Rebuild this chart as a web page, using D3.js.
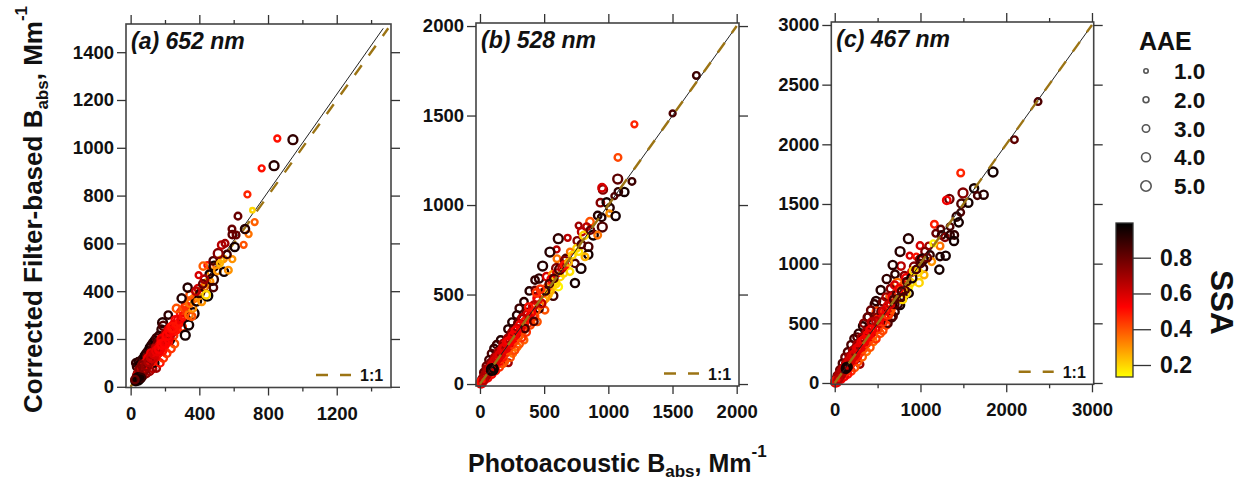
<!DOCTYPE html>
<html>
<head>
<meta charset="utf-8">
<script src="https://cdn.jsdelivr.net/npm/d3@7"></script>
<style>
  html, body { margin: 0; background: #fff; }
  svg { display: block; font-family: "Liberation Sans", Arial, sans-serif; font-weight: bold; fill: #111; }
  .marks { filter: blur(0.35px); }
</style>
</head>
<body>
<div id="chart"></div>
<script>
// every point is [photoacoustic, filter-based, AAE, SSA]
const pointsA = [
  [30,100,3,.9],[45,105,3,.92],[60,108,3,.85],[35,85,3,.9],[50,90,3,.95],[70,115,3.5,.9],[80,130,3,.95],[90,140,3,.92],
  [100,150,3,.9],[110,165,3,.95],[120,175,3,.92],[130,185,3,.9],[140,195,3,.95],[150,205,3,.88],[165,215,3,.9],
  [180,240,3.5,.9],[186,268,4,.92],[190,255,3.5,.85],[219,300,3,.9],[70,45,3,.8],[90,55,3,.75],[110,65,3,.7],
  [130,75,2.5,.65],[151,77,2.5,.7],[140,100,3,.95],[170,100,3,.5],[190,120,3,.45],[210,140,3,.45],[235,160,3,.45],
  [255,180,3,.4],[230,195,3,.95],[60,70,3,.6],[75,85,3,.7],[85,75,3,.55],[95,110,3,.75],[105,95,3,.55],[115,130,3,.7],
  [125,105,3,.5],[135,150,3.5,.75],[145,125,3,.55],[155,175,3,.7],[160,140,3,.5],[170,165,3.5,.6],[175,190,3,.65],
  [185,150,3,.5],[195,210,3,.6],[200,175,3,.5],[215,225,3,.55],[220,190,3,.5],[225,215,4,.8],[240,250,3,.55],
  [250,215,3,.45],[260,280,3,.55],[270,240,3,.5],[280,265,3,.6],[290,310,3,.5],[300,250,3,.45],[305,290,3,.75],
  [40,55,3,.8],[50,60,3,.55],[55,70,3,.6],[65,60,3,.6],[70,95,3,.8],[75,75,3,.5],[85,90,3,.65],[90,80,3,.5],
  [95,125,3,.8],[100,90,3,.6],[105,115,3,.6],[110,100,3,.5],[115,145,3,.85],[120,115,3,.55],[125,135,3,.65],[130,125,3,.5],
  [130,160,3,.85],[140,140,3,.6],[145,165,3,.7],[150,135,3,.55],[155,155,3,.5],[160,185,3,.8],[165,170,3,.55],[170,145,3,.5],
  [175,175,3,.6],[180,160,3,.5],[185,190,3,.6],[190,175,3,.5],[195,195,3,.65],[200,190,3,.55],[205,225,3,.7],[210,200,3,.5],
  [215,210,3,.55],[220,240,3,.6],[225,205,3,.55],[230,225,3,.5],[235,250,3,.5],[240,225,3,.6],[245,235,3,.55],[250,260,3,.55],
  [255,235,3,.5],[260,255,3,.6],[265,255,3,.5],[275,280,3,.55],[285,270,3,.5],[295,285,3,.55],[300,320,3,.45],[310,300,3,.5],
  [315,330,3,.4],[330,320,3,.45],[350,360,3,.4],[370,370,3,.35],[390,380,3,.3],[410,400,3,.3],[430,420,3,.35],[445,435,3,.3],
  [460,440,3,.3],[470,480,3,.3],[500,510,2.5,.35],[525,530,2.5,.25],[540,535,2.5,.3],
  [267,328,3,.4],[318,216,4,.95],[338,258,4,.95],[365,307,5,.95],[340,300,3,.35],[355,295,3,.4],[360,330,3,.3],
  [320,340,3,.45],[345,350,3,.35],[384,359,4,.95],[414,356,2.5,.3],[346,384,3,.4],[297,370,3.5,.92],[332,415,3.5,.92],
  [394,411,3,.6],[404,391,3,.9],[380,400,3,.65],[420,430,3,.8],[447,381,4.5,.97],[440,385,3,.2],[482,415,3,.85],
  [478,449,5,.9],[458,471,3,.95],[430,450,3,.7],[396,467,2,.6],[447,509,2,.5],[423,505,3,.38],[485,505,4,.95],
  [481,527,3,.85],[505,485,2.5,.3],[544,481,3.5,.95],[569,488,2.5,.3],[520,516,2,.25],[592,534,2,.3],[561,554,3,.88],
  [510,558,4,.75],[530,593,3,.65],[550,600,2.5,.7],[606,585,3.5,.95],[658,594,2,.4],[687,639,2,.35],[592,637,3,.82],
  [614,635,2.5,.8],[590,660,2.5,.8],[666,660,3.5,.92],[625,714,2.5,.8],[722,689,2,.38],[709,739,1,.2],[680,805,2,.47],
  [763,914,2,.5],[835,925,4,.92],[854,1039,2,.5],[945,1034,4,.9],
  [35,45,3,.7],[45,60,3,.65],[60,50,3,.6],[75,65,3,.55],[85,100,3,.6],[100,120,3,.55],[120,140,3.5,.55],[135,120,3,.6],
  [150,160,3.5,.65],[165,150,3,.55],[180,200,3.5,.55],[205,205,3,.6],[50,75,3,.75],[65,90,3,.75],
  [55,48,3.5,.75],[68,58,3.5,.7],[80,72,4,.75],[92,88,4,.72],[108,105,4,.68],[122,122,4,.62],[138,138,4,.6],[152,150,4,.56],
  [168,160,4,.54],[182,178,4,.52],[198,182,4,.52],[212,215,4,.52],[228,232,4,.52],[246,248,4,.5],
  [30,25,4,.95],[38,30,4,.98],[45,28,4,.95],[52,35,4,.98],[42,38,4,.95],[60,38,3.5,.9],[35,35,3.5,.95],[25,30,3,.8]
];
const pointsB = [
  [1686,1724,2.5,.88],[1501,1512,2,.85],[1203,1451,2,.47],[1075,1266,2.5,.42],[1073,1145,4,.82],[1184,1132,2.5,.88],
  [958,1087,3.5,.75],[951,1097,3,.6],[1125,1073,3.5,.95],[1078,1074,3,.9],[1047,1050,2,.85],[938,1013,3,.75],
  [987,1015,3.5,.95],[1013,985,3,.92],[1008,953,2,.3],[1057,939,3.5,.95],[917,942,3,.92],[948,931,3,.92],[953,877,4,.85],
  [857,907,3,.4],[769,885,2,.7],[831,879,2.5,.65],[792,851,3,.65],[883,832,4,.95],[917,832,2.5,.35],[683,817,2,.65],
  [610,812,4,.9],[758,800,3,.75],[597,752,2,.65],[545,737,4,.92],[844,767,3.5,.85],[844,724,3.5,.95],[818,711,2.5,.25],
  [753,758,2.5,.2],[600,700,2.5,.35],[670,702,3,.85],[701,739,2,.35],[488,659,4,.92],[787,646,4,.95],[740,674,3,.85],
  [597,646,4,.75],[701,628,2.5,.18],[623,600,3,.2],[740,564,3.5,.95],[429,581,3,.9],[460,590,3.5,.9],[384,520,3,.92],
  [429,525,2.5,.8],[519,600,3,.6],[566,609,3,.3],[610,544,3,.15],[571,493,3.5,.88],[506,413,2.5,.4],[343,460,3,.92],
  [306,423,3,.88],[447,348,2.5,.4],[286,385,3,.92],[249,346,3,.92],[218,307,3,.92],[343,246,2.5,.38],[291,208,2.5,.35],
  [255,171,2.5,.35],[221,119,2.5,.7],[195,125,2,.4],[161,246,3,.92],[109,199,3,.9],[130,220,3,.88],[90,170,3,.85],
  [70,135,3,.88],[50,100,3,.8],[30,65,3,.8],[150,95,3,.45],[175,115,3,.4],[120,75,3,.5],[90,55,3,.55],[60,35,3,.55],
  [235,150,3,.4],[270,190,3,.42],[305,225,3,.4],[325,260,3,.45],[360,290,3,.45],[390,330,3,.42],[425,380,3,.4],
  [460,420,3,.88],[495,470,3,.3],[530,500,3,.25],[560,540,3,.2],[580,570,3,.2],
  [15,25,3,.8],[25,35,3,.6],[35,25,3,.55],[45,60,3,.75],[50,40,3,.5],[60,75,3,.8],[65,55,3,.5],[75,90,3,.7],[80,65,3,.45],
  [95,110,3,.8],[105,85,3,.5],[110,125,3,.7],[120,105,3,.55],[125,150,3,.85],[135,115,3,.45],[140,160,3,.75],[150,130,3,.55],
  [155,190,3,.9],[160,140,3,.45],[170,185,3,.7],[175,150,3,.5],[190,215,3,.8],[195,170,3,.45],[205,195,3,.55],[210,245,3,.85],
  [220,190,3,.4],[225,215,3,.6],[240,275,3,.85],[245,220,3,.45],[255,250,3,.55],[265,310,3,.85],[275,245,3,.42],[285,280,3,.6],
  [295,340,3,.8],[300,265,3,.4],[315,300,3,.55],[325,365,3,.75],[335,300,3,.42],[345,335,3,.6],[360,400,3,.8],[375,340,3,.45],
  [385,375,3,.55],[410,430,3,.6],[415,380,3,.45],[435,410,3,.4],[445,480,3,.55],[465,440,3,.35],[490,510,3,.45],[510,480,3,.3],
  [525,540,3,.4],[545,520,3,.25],[555,585,3,.55],[590,560,3,.2],[600,620,3,.6],[650,620,3,.2],[660,690,3,.75],
  [480,450,3,.65],[450,470,3,.55],[420,440,3,.65],[400,400,3,.55],[370,390,3,.6],[350,350,3,.5],[330,370,3,.65],
  [310,330,3,.55],[290,310,3,.6],[270,280,3,.55],[250,290,3,.7],[235,240,3,.55],[215,255,3,.7],[200,210,3,.55],
  [180,225,3,.7],[165,170,3,.55],[145,180,3,.7],[130,135,3,.55],[115,150,3,.7],[100,100,3,.55],[85,120,3,.75],
  [70,70,3,.55],[55,85,3,.7],[40,40,3,.55],[510,520,3,.9],[540,560,3,.85],[575,590,3,.85],[620,640,4,.85],[640,650,3,.65],
  [660,665,3,.5],[690,680,2.5,.25],[720,720,2.5,.2],[770,740,2.5,.18],[790,780,3,.85],[810,830,3,.2],[860,860,3,.8],
  [380,430,3,.5],[440,510,3,.45],[470,530,3,.45],[420,350,3,.85],[350,310,3,.85],
  [30,32,4,.7],[48,52,4,.68],[65,68,4,.66],[82,88,4,.64],[98,108,4,.62],[118,128,4,.6],[138,148,4,.6],[158,165,4,.58],
  [178,195,4,.58],[192,200,4,.56],[212,230,4,.56],[230,240,4,.54],[260,268,4,.54],[280,295,4,.54],
  [96,82,5,.98],[105,88,3.5,.95],[88,75,3.5,.95],
  [10,8,3,.55],[20,15,3,.55],[5,2,3,.6],[15,3,3,.55],[3,10,3,.5],[28,20,3,.65]
];
const pointsC = [
  [2371,2358,2.5,.85],[2095,2039,2.5,.82],[1469,1760,2.5,.47],[1846,1768,4,.95],[1625,1631,3.5,.95],[1663,1570,2.5,.85],
  [1737,1578,3.5,.92],[1496,1592,4,.75],[1337,1542,3.5,.8],[1306,1531,3,.55],[1477,1503,3.5,.85],[1558,1511,3.5,.95],
  [1469,1430,2.5,.85],[1422,1394,3.5,.9],[1446,1346,3.5,.95],[1345,1310,2.5,.85],[1162,1330,2.5,.48],[1236,1290,2.5,.82],
  [1178,1254,2.5,.8],[1247,1240,3,.9],[1286,1221,3,.75],[1345,1240,3,.9],[1395,1240,3,.9],[1391,1190,3.5,.95],
  [859,1209,4,.92],[995,1151,2.5,.6],[1096,1148,2.5,.7],[1228,1148,2.5,.35],[1150,1170,2,.15],[762,1101,4,.92],
  [1053,1101,3,.75],[874,1067,2,.6],[952,1059,2,.5],[1111,1073,3,.9],[1228,1059,3,.92],[1294,1067,3.5,.95],
  [1131,1017,2.5,.3],[1220,950,3.5,.95],[773,980,3,.65],[676,989,3.5,.92],[925,975,3.5,.75],[1034,961,3,.9],
  [703,911,3,.9],[1042,905,2.5,.25],[606,872,3.5,.9],[812,899,3,.75],[731,835,4,.35],[983,841,3,.2],[536,779,3.5,.92],
  [859,802,3,.15],[867,751,3,.95],[482,687,3.5,.92],[463,662,3,.9],[645,723,3,.4],[800,723,3,.9],[762,654,3.5,.95],
  [393,553,3.5,.92],[490,598,3.5,.42],[703,598,3,.9],[665,547,3,.9],[599,486,3,.45],[326,478,3,.92],[276,416,3,.9],
  [225,372,3,.88],[529,416,3,.4],[451,346,2.5,.35],[373,263,2.5,.35],[295,156,2.5,.7],
  [190,320,3,.85],[150,260,3,.85],[120,215,3,.8],[90,165,3,.85],[60,110,3,.8],[30,60,3,.8],[260,385,3,.85],
  [420,610,3,.8],[380,550,3,.8],[340,500,3,.75],[560,680,3,.8],[600,720,3,.7],[650,790,3,.75],[700,820,3,.6],
  [230,130,3,.4],[190,100,3,.45],[150,75,3,.5],[110,55,3,.55],[70,30,3,.55],[270,180,3,.4],[320,220,3,.38],
  [410,300,3,.4],[480,370,3,.45],[560,440,3,.42],[620,500,3,.85],[680,560,3,.85],[640,590,3,.4],[740,660,3,.9],
  [790,700,3,.2],[830,750,3,.2],
  [20,35,3,.8],[35,50,3,.6],[50,35,3,.55],[65,90,3,.75],[75,60,3,.5],[90,110,3,.8],[100,80,3,.5],[115,135,3,.7],[120,95,3,.45],
  [140,170,3,.8],[155,125,3,.5],[165,190,3,.7],[180,155,3,.55],[190,225,3,.85],[200,170,3,.45],[210,245,3,.75],[225,195,3,.55],
  [235,285,3,.9],[240,210,3,.45],[255,280,3,.7],[265,225,3,.5],[285,325,3,.8],[295,255,3,.45],[310,290,3,.55],[315,365,3,.85],
  [330,285,3,.4],[340,325,3,.6],[360,415,3,.85],[370,330,3,.45],[385,375,3,.55],[400,465,3,.85],[415,370,3,.42],[430,420,3,.6],
  [445,510,3,.8],[450,400,3,.4],[475,450,3,.55],[490,550,3,.75],[505,450,3,.42],[520,500,3,.6],[540,600,3,.8],[565,510,3,.45],
  [580,560,3,.55],[615,645,3,.6],[625,570,3,.45],[655,615,3,.4],[670,720,3,.55],[700,660,3,.85],[735,765,3,.45],[765,720,3,.85],
  [790,810,3,.4],[820,780,3,.85],[830,880,3,.55],[885,840,3,.2],[900,930,3,.6],[975,930,3,.2],[990,1035,3,.75],
  [600,610,3,.55],[560,600,3,.6],[520,530,3,.55],[480,520,3,.65],[440,450,3,.55],[430,510,3,.65],[400,410,3,.55],
  [370,430,3,.7],[340,350,3,.55],[310,380,3,.7],[290,300,3,.55],[260,320,3,.7],[240,240,3,.55],[210,270,3,.7],
  [190,190,3,.55],[170,220,3,.7],[150,150,3,.55],[130,170,3,.7],[110,110,3,.55],[90,120,3,.7],[70,70,3,.55],[50,75,3,.7],
  [650,660,3,.6],[690,700,3,.85],[720,740,3,.85],[750,790,3,.55],[780,770,3,.85],[840,850,3,.85],[900,880,4,.95],
  [920,940,3,.2],[950,950,3,.85],[1026,1036,4.5,.92],[1000,1000,3,.85],[1080,1050,3,.8],
  [45,48,4,.7],[70,74,4,.68],[95,100,4,.66],[122,130,4,.64],[148,158,4,.62],[175,185,4,.6],[205,220,4,.6],[230,238,4,.58],
  [262,282,4,.58],[285,298,4,.56],[318,342,4,.56],[345,358,4,.54],[390,402,4,.54],[420,442,4,.54],
  [140,131,4,.95],[150,135,3.5,.95],[130,120,3.5,.95],
  [10,8,3,.55],[20,12,3,.55],[5,2,3,.6],[25,3,3,.55],[3,15,3,.5],[40,30,3,.65]
];

const xTicksA = [0, 400, 800, 1200], xMinorA = [200, 600, 1000, 1400], yTicksA = [0, 200, 400, 600, 800, 1000, 1200, 1400];
const xTicksB = [0, 500, 1000, 1500, 2000], xMinorB = [], yTicksB = [0, 500, 1000, 1500, 2000];
const xTicksC = [0, 1000, 2000, 3000], xMinorC = [500, 1500, 2500], yTicksC = [0, 500, 1000, 1500, 2000, 2500, 3000];
const aaeValues = [1, 2, 3, 4, 5];
const ssaTicks = [0.2, 0.4, 0.6, 0.8];

const width = 1241, height = 481;

const svg = d3.select("#chart")
  .append("svg")
  .attr("width", width)
  .attr("height", height);

const color = d3.scaleLinear()
  .domain([0.135, 0.525, 0.99])
  .range(["#ffff00", "#ff0000", "#000000"])
  .clamp(true);

const radius = d3.scaleLinear().domain([1, 5]).range([2.2, 5.2]);

// frame is in pixels, xd/yd are the axis ranges shown inside the frame
const panels = [
  { label: "(a) 652 nm", points: pointsA, xt: xTicksA, xm: xMinorA, yt: yTicksA, left: 126, right: 391, top: 24, bottom: 387.5, xd: [-27, 1516], yd: [-3, 1518], fit: [[0, 0], [1471, 1500]], end: 1500, linesOnTop: false },
  { label: "(b) 528 nm", points: pointsB, xt: xTicksB, xm: xMinorB, yt: yTicksB, left: 476, right: 739, top: 23, bottom: 386, xd: [-31, 2018], yd: [-11, 2017], fit: [[0, 0], [2000, 2000]], end: 2000, linesOnTop: true },
  { label: "(c) 467 nm", points: pointsC, xt: xTicksC, xm: xMinorC, yt: yTicksC, left: 831.3, right: 1093.7, top: 22, bottom: 384.3, xd: [-40, 3020], yd: [-11, 3025], fit: [[0, 0], [3000, 3000]], end: 3000, linesOnTop: true }
];

function styleAxis(g) {
  g.select(".domain").remove();
  g.selectAll("line").attr("stroke", "#333").attr("stroke-width", 1.3);
  g.selectAll("text").attr("fill", "#111").attr("font-size", 18.5).attr("font-family", null).attr("font-weight", "bold");
}

panels.forEach(p => {
  const x = d3.scaleLinear().domain(p.xd).range([p.left, p.right]);
  const y = d3.scaleLinear().domain(p.yd).range([p.bottom, p.top]);
  const g = svg.append("g");

  const drawLines = () => {
    const line = d3.line().x(d => x(d[0])).y(d => y(d[1]));
    g.append("path").attr("d", line(p.fit)).attr("fill", "none").attr("stroke", "#222").attr("stroke-width", 1);
    g.append("path").attr("d", line([[0, 0], [p.end, p.end]])).attr("fill", "none")
      .attr("stroke", "#9c7414").attr("stroke-width", 2.4).attr("stroke-dasharray", "12,12");
  };

  if (!p.linesOnTop) drawLines();

  g.append("g").attr("class", "marks")
    .selectAll("circle")
    .data(p.points)
    .join("circle")
    .attr("cx", d => x(d[0]))
    .attr("cy", d => y(d[1]))
    .attr("r", d => radius(d[2]))
    .attr("fill", "none")
    .attr("stroke", d => color(d[3]))
    .attr("stroke-width", 2.4);

  if (p.linesOnTop) drawLines();

  g.append("rect")
    .attr("x", p.left).attr("y", p.top)
    .attr("width", p.right - p.left).attr("height", p.bottom - p.top)
    .attr("fill", "none").attr("stroke", "#444").attr("stroke-width", 1.6);

  // major ticks with labels, then the mirrored ticks on top and right
  g.append("g").attr("transform", `translate(0,${p.bottom})`)
    .call(d3.axisBottom(x).tickValues(p.xt).tickSize(8).tickPadding(11).tickFormat(d3.format("d")))
    .call(styleAxis);
  g.append("g").attr("transform", `translate(0,${p.bottom})`)
    .call(d3.axisBottom(x).tickValues(p.xm).tickSize(4).tickFormat(""))
    .call(styleAxis);
  g.append("g").attr("transform", `translate(0,${p.top})`)
    .call(d3.axisTop(x).tickValues(p.xt).tickSize(9).tickFormat(""))
    .call(styleAxis);
  g.append("g").attr("transform", `translate(0,${p.top})`)
    .call(d3.axisTop(x).tickValues(p.xm).tickSize(4).tickFormat(""))
    .call(styleAxis);
  g.append("g").attr("transform", `translate(${p.left},0)`)
    .call(d3.axisLeft(y).tickValues(p.yt).tickSize(9).tickPadding(3).tickFormat(d3.format("d")))
    .call(styleAxis);
  g.append("g").attr("transform", `translate(${p.right},0)`)
    .call(d3.axisRight(y).tickValues(p.yt).tickSize(9).tickFormat(""))
    .call(styleAxis);

  g.append("text")
    .attr("x", p.left + 5).attr("y", p.top + 25)
    .attr("font-size", 23).attr("font-style", "italic")
    .text(p.label);

  // 1:1 key
  const ky = p.bottom - 12.5;
  g.append("line")
    .attr("x1", p.right - 75).attr("x2", p.right - 40).attr("y1", ky).attr("y2", ky)
    .attr("stroke", "#9c7414").attr("stroke-width", 2.4).attr("stroke-dasharray", "12,12");
  g.append("text")
    .attr("x", p.right - 31).attr("y", ky + 6)
    .attr("font-size", 16)
    .text("1:1");
});

// axis titles
const yTitle = svg.append("text")
  .attr("transform", "translate(42,413) rotate(-90)")
  .attr("font-size", 26);
yTitle.append("tspan").text("Corrected Filter-based B");
yTitle.append("tspan").attr("font-size", 17).attr("dy", 6).text("abs");
yTitle.append("tspan").attr("dy", -6).text(", Mm");
yTitle.append("tspan").attr("font-size", 17).attr("dy", -15).text("-1");

const xTitle = svg.append("text")
  .attr("x", 468).attr("y", 472)
  .attr("font-size", 25);
xTitle.append("tspan").text("Photoacoustic B");
xTitle.append("tspan").attr("font-size", 17).attr("dy", 5).text("abs");
xTitle.append("tspan").attr("dy", -5).text(", Mm");
xTitle.append("tspan").attr("font-size", 17).attr("dy", -15).text("-1");

// AAE size key
svg.append("text").attr("x", 1139).attr("y", 50).attr("font-size", 25).text("AAE");
const aaeY = d3.scalePoint().domain(aaeValues).range([71, 186]);
const aaeKey = svg.append("g").selectAll("g").data(aaeValues).join("g")
  .attr("transform", d => `translate(0,${aaeY(d)})`);
aaeKey.append("circle")
  .attr("cx", 1146)
  .attr("r", d => radius(d))
  .attr("fill", "none")
  .attr("stroke", "#555")
  .attr("stroke-width", 1.6);
aaeKey.append("text")
  .attr("x", 1174).attr("y", 8)
  .attr("font-size", 22.5)
  .text(d => d.toFixed(1));

// SSA colour bar
const barLeft = 1116, barRight = 1133, barTop = 223, barBottom = 377;
const barScale = d3.scaleLinear().domain([0.2, 0.8]).range([365, 257.7]);
const grad = svg.append("defs").append("linearGradient")
  .attr("id", "ssaGrad").attr("x1", 0).attr("x2", 0).attr("y1", 1).attr("y2", 0);
color.domain().forEach((v, i) => {
  grad.append("stop")
    .attr("offset", (barBottom - barScale(v)) / (barBottom - barTop))
    .attr("stop-color", color.range()[i]);
});
svg.append("rect")
  .attr("x", barLeft).attr("y", barTop)
  .attr("width", barRight - barLeft).attr("height", barBottom - barTop)
  .attr("fill", "url(#ssaGrad)")
  .attr("stroke", "#333").attr("stroke-width", 1.3);
svg.append("g").attr("transform", `translate(${barRight},0)`)
  .call(d3.axisRight(barScale).tickValues(ssaTicks).tickSize(18).tickPadding(9).tickFormat(d3.format(".1f")))
  .call(styleAxis)
  .call(g => g.selectAll("text").attr("font-size", 23));
svg.append("text")
  .attr("transform", "translate(1211,270) rotate(90)")
  .attr("font-size", 31.5)
  .text("SSA");
</script>
</body>
</html>
